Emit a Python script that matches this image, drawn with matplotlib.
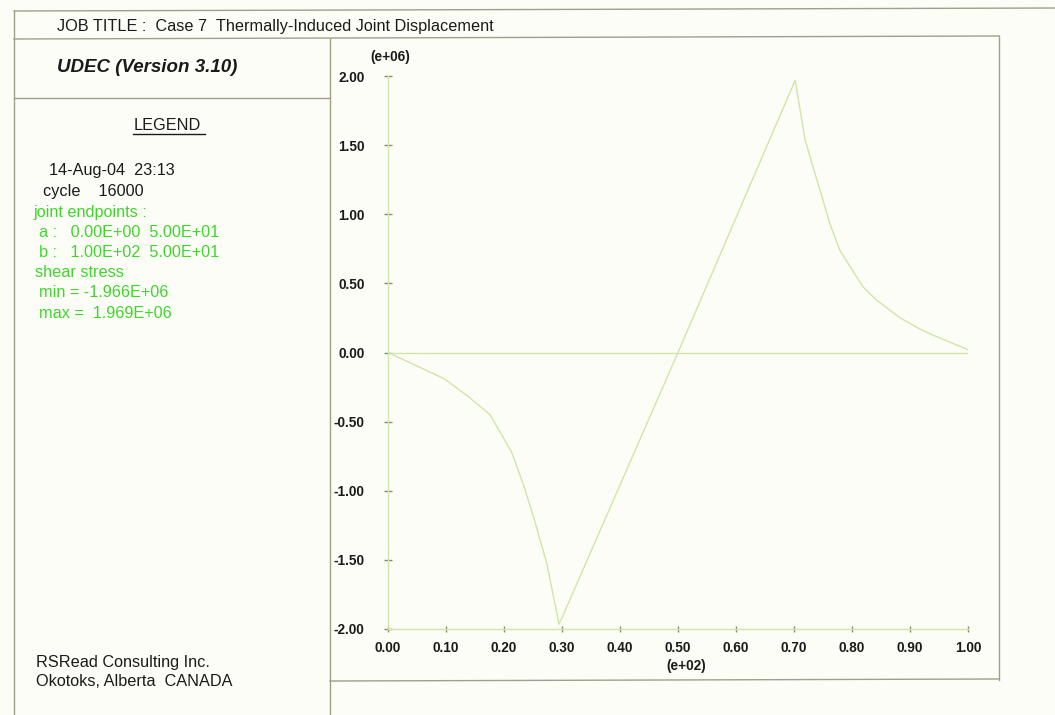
import matplotlib
matplotlib.use("Agg")
import matplotlib.pyplot as plt
from matplotlib.lines import Line2D

plt.rcParams['font.family'] = ['Liberation Sans', 'DejaVu Sans']
plt.rcParams['axes.unicode_minus'] = False

# ---- data (x in e+02, shear stress in e+06) ----
x_pos = [0.0, 0.097, 0.136, 0.176, 0.213, 0.233, 0.251, 0.274, 0.295,
         0.500, 0.702, 0.719, 0.733, 0.748, 0.762, 0.779, 0.797, 0.819,
         0.842, 0.883, 0.917, 0.940, 1.0]
shear = [0.0, -0.19, -0.31, -0.45, -0.72, -0.95, -1.19, -1.53, -1.966,
         0.0, 1.969, 1.54, 1.34, 1.13, 0.93, 0.74, 0.62, 0.475,
         0.38, 0.25, 0.17, 0.125, 0.02]
zero_x = [0.0, 1.0]
zero_y = [0.0, 0.0]
x_ticks = [0.0, 0.1, 0.2, 0.3, 0.4, 0.5, 0.6, 0.7, 0.8, 0.9, 1.0]
y_ticks = [-2.0, -1.5, -1.0, -0.5, 0.0, 0.5, 1.0, 1.5, 2.0]

title_text = "JOB TITLE :  Case 7  Thermally-Induced Joint Displacement"
version_text = "UDEC (Version 3.10)"
legend_black = ["14-Aug-04  23:13", "cycle    16000"]
legend_green = ["joint endpoints :",
                "a :   0.00E+00  5.00E+01",
                "b :   1.00E+02  5.00E+01",
                "shear stress",
                "min = -1.966E+06",
                "max =  1.969E+06"]
footer = ["RSRead Consulting Inc.", "Okotoks, Alberta  CANADA"]

W, H = 1055, 715
BG = '#fdfdf8'
FRAME = '#a09f88'
LINE = '#cfe6a6'
GREEN = '#3fd62c'
DARK = '#1a1a1a'
FS = 11.7

fig = plt.figure(figsize=(W / 100, H / 100), dpi=100, facecolor=BG)

def P(x, y):
    return (x / W, 1 - y / H)

def fline(x0, y0, x1, y1, color=FRAME, lw=1.0):
    a, b = P(x0, y0)
    c, d = P(x1, y1)
    fig.add_artist(Line2D([a, c], [b, d], transform=fig.transFigure,
                          color=color, lw=lw))

def ftext(x, y, s, **kw):
    a, b = P(x, y)
    fig.text(a, b, s, va='center', **kw)

# frame lines
fline(14, 11, 1055, 8)
fline(14, 11, 14, 715)
fline(14, 39, 999, 36)
fline(999, 36, 999, 680)
fline(330, 39, 330, 715)
fline(330, 681, 999, 679)
fline(14, 98, 330, 98)

# texts
ftext(57, 26, title_text, fontsize=FS, color=DARK)
ftext(57, 67, version_text, fontsize=13.5, fontweight='bold',
      fontstyle='italic', color=DARK)
ftext(167, 125, "LEGEND", fontsize=FS, color=DARK, ha='center')
fline(133, 134, 205, 134, color=DARK, lw=1.0)

black_x = [49, 43]
for i, s in enumerate(legend_black):
    ftext(black_x[i], 171 + 20 * i, s, fontsize=FS, color=DARK)
green_x = [33, 39, 39, 35, 39, 39]
for i, s in enumerate(legend_green):
    ftext(green_x[i], 212 + 20.2 * i, s, fontsize=FS, color=GREEN)
for i, s in enumerate(footer):
    ftext(36, 662 + 20 * i, s, fontsize=FS, color=DARK)

# plot axes
ax = fig.add_axes([388 / W, 1 - 629 / H, 580 / W, 553 / H])
ax.set_facecolor('none')
ax.plot(x_pos, shear, color=LINE, lw=1.0)
ax.plot(zero_x, zero_y, color=LINE, lw=1.0)
ax.set_xlim(0, 1.0)
ax.set_ylim(-2.0, 2.0)
for s in ['top', 'right']:
    ax.spines[s].set_visible(False)
for s in ['left', 'bottom']:
    ax.spines[s].set_color(LINE)
    ax.spines[s].set_linewidth(1.0)
ax.set_xticks(x_ticks)
ax.set_yticks(y_ticks)
ax.set_xticklabels(['%.2f' % v for v in x_ticks])
ax.set_yticklabels(['%.2f' % v for v in y_ticks])
ax.tick_params(axis='y', direction='inout', length=6, width=1,
               color='#8a8a70', pad=14, labelsize=9.8, labelcolor=DARK)
ax.tick_params(axis='x', direction='inout', length=5, width=1,
               color='#8a8a70', pad=6, labelsize=9.8, labelcolor=DARK)
for lab in ax.get_xticklabels() + ax.get_yticklabels():
    lab.set_fontweight('bold')

ftext(390, 57, "(e+06)", fontsize=9.8, color=DARK, ha='center', fontweight='bold')
ftext(686, 666, "(e+02)", fontsize=9.8, color=DARK, ha='center', fontweight='bold')

fig.savefig("out.png", dpi=100, facecolor=BG)
